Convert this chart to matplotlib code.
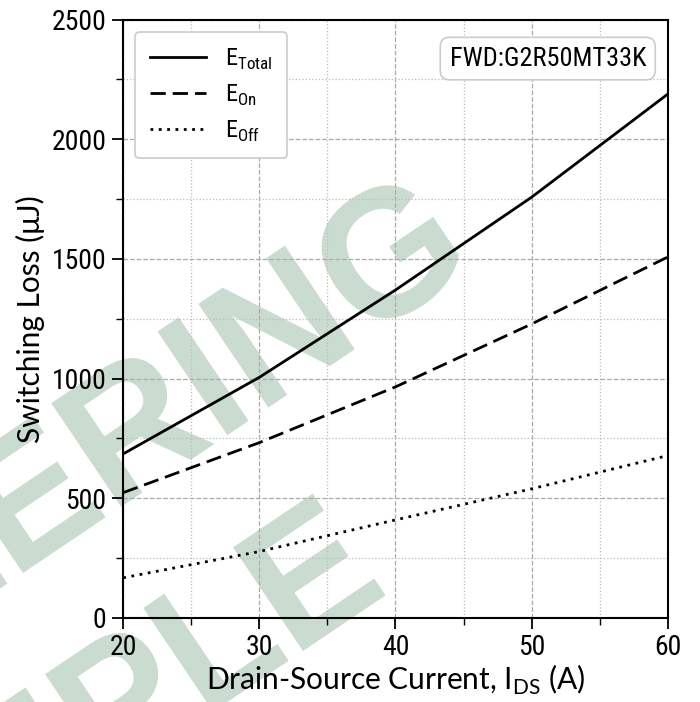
import matplotlib
matplotlib.use("Agg")
import matplotlib.pyplot as plt
import matplotlib.transforms as mtransforms
from matplotlib.ticker import MultipleLocator
from matplotlib.textpath import TextPath
from matplotlib.patches import PathPatch
from matplotlib.font_manager import FontProperties
import numpy as np

# data
ids = [20, 30, 40, 50, 60]
e_total = [685, 1005, 1370, 1758, 2189]
e_on = [523, 732, 965, 1228, 1508]
e_off = [167, 277, 409, 539, 678]

cond = ['Roboto Condensed', 'Roboto']

W, H = 700, 702
fig = plt.figure(figsize=(W / 100, H / 100), dpi=100)
ax = fig.add_axes([0.176, 0.12, 0.778, 0.852])
ax.patch.set_alpha(0)

# --- watermark: bold text drawn as paths (pixel coords, y up) ---
wm_fp = FontProperties(family='Liberation Sans', weight='bold')
ang = 34
d = np.array([np.cos(np.radians(ang)), np.sin(np.radians(ang))])


def ext(s):
    return TextPath((0, 0), s, size=1, prop=wm_fp).get_extents()


# fit glyph size: cap height ~125 px, I-centre to G-centre ~220 px
i_mid = ext('ENGINEERI').x1 - ext('I').width / 2
g_mid = ext('ENGINEERING').x1 - ext('G').width / 2
em_w = 220 / (g_mid - i_mid)
em_h = 125 / ext('E').height


def watermark(s, ref_x, ref_px):
    p = np.array([ref_px[0], H - ref_px[1]]) - ref_x * em_w * d
    tp = TextPath((0, 0), s, size=1, prop=wm_fp)
    tr = (mtransforms.Affine2D().scale(em_w, em_h).rotate_deg(ang)
          .translate(*p).scale(1 / 100.) + fig.dpi_scale_trans)
    fig.add_artist(PathPatch(tp, fc='#c9dccf', ec='none', transform=tr, zorder=-5))


watermark('ENGINEERING', i_mid, (238, 428))
watermark('SAMPLE', ext('SAMPLE').x1 - ext('E').width, (303, 651))

ax.plot(ids, e_total, color='black', lw=2.0, ls='-', label=r'E$_{\mathregular{Total}}$')
ax.plot(ids, e_on, color='black', lw=2.0, ls=(0, (5.5, 2.5)), label=r'E$_{\mathregular{On}}$')
ax.plot(ids, e_off, color='black', lw=2.0, ls=(0, (1, 2)), label=r'E$_{\mathregular{Off}}$')

ax.set_xlim(20, 60)
ax.set_ylim(0, 2500)
ax.xaxis.set_major_locator(MultipleLocator(10))
ax.xaxis.set_minor_locator(MultipleLocator(5))
ax.yaxis.set_major_locator(MultipleLocator(500))
ax.yaxis.set_minor_locator(MultipleLocator(250))
ax.grid(which='major', color='#aaaaaa', ls='--', lw=0.9)
ax.grid(which='minor', color='#bbbbbb', ls=':', lw=0.9)

for s in ax.spines.values():
    s.set_linewidth(1.5)
ax.tick_params(which='major', length=8, width=1.3, labelsize=20, pad=4)
ax.tick_params(which='minor', length=5, width=1.0)
for lab in ax.get_xticklabels() + ax.get_yticklabels():
    lab.set_family(cond)

ax.set_xlabel(r'Drain-Source Current, I$_{\mathregular{DS}}$ (A)', fontsize=21.5, family='Lato', labelpad=1)
ax.set_ylabel('Switching Loss (μJ)', fontsize=21.5, family='Lato', labelpad=5)

leg = ax.legend(loc='upper left', prop={'family': cond, 'size': 17.5}, handlelength=2.3,
                borderpad=0.6, labelspacing=0.45, fancybox=True, framealpha=1, edgecolor='#cccccc')
leg.get_frame().set_linewidth(1.2)

ax.text(0.96, 0.955, 'FWD:G2R50MT33K', transform=ax.transAxes, ha='right', va='top',
        fontsize=19, family=cond,
        bbox=dict(boxstyle='round,pad=0.35', fc='white', ec='#cccccc', lw=1.2))

fig.savefig('out.png', dpi=100)
